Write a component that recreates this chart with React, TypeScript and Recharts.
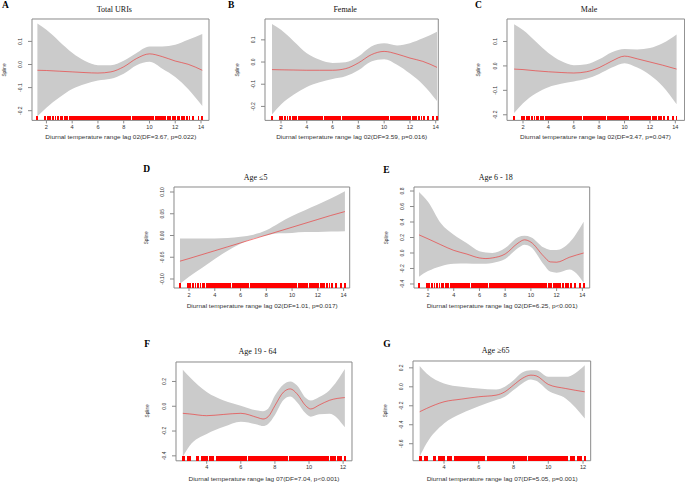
import React from 'react';
import {ComposedChart, Area, Line, XAxis, YAxis, ReferenceArea, ReferenceLine} from 'recharts';

// ---- observed exposure values (rug) ----
const LAG02_RUG = [
    1.3, 1.9, 2.1, 2.3, 2.5, 2.7, 2.9, 3.1, 3.2, 3.4, 3.5, 3.6, 3.8, 3.9,
    4.0, 4.1, 4.2, 4.3, 4.4, 4.5, 4.6, 4.7, 4.8, 4.9,
    5.0, 5.1, 5.2, 5.4, 5.5, 5.6, 5.7, 5.8, 5.9,
    6.0, 6.1, 6.2, 6.3, 6.4, 6.5, 6.6, 6.8, 6.9,
    7.0, 7.1, 7.2, 7.3, 7.4, 7.5, 7.6, 7.7, 7.8, 7.9,
    8.0, 8.1, 8.2, 8.3, 8.4, 8.5, 8.7, 8.8, 8.9,
    9.0, 9.1, 9.2, 9.3, 9.4, 9.5, 9.6, 9.7, 9.8, 9.9,
    10.0, 10.1, 10.2, 10.3, 10.5, 10.6, 10.7, 10.8, 10.9,
    11.0, 11.1, 11.2, 11.4, 11.5, 11.6, 11.8, 11.9, 12.0, 12.2, 12.3,
    12.5, 12.7, 12.9, 13.1, 13.4, 13.8, 14.1,
];
const LAG07_RUG = [
    2.6, 2.7, 2.9, 3.0, 3.4, 3.5, 3.7, 3.8, 3.9, 4.0, 4.2, 4.3, 4.4, 4.6, 4.7, 4.8, 4.9,
    5.0, 5.1, 5.2, 5.3, 5.4, 5.5, 5.6, 5.7, 5.8, 5.9,
    6.0, 6.1, 6.2, 6.3, 6.5, 6.6, 6.7, 6.8, 6.9,
    7.0, 7.1, 7.2, 7.3, 7.4, 7.5, 7.6, 7.7, 7.8, 7.9,
    8.0, 8.1, 8.2, 8.3, 8.4, 8.5, 8.6, 8.7, 8.9,
    9.0, 9.1, 9.2, 9.3, 9.4, 9.5, 9.6, 9.7, 9.8, 9.9,
    10.0, 10.1, 10.2, 10.3, 10.4, 10.5, 10.6, 10.7, 10.8, 10.9,
    11.0, 11.1, 11.3, 11.4, 11.5, 11.7, 11.8, 11.9, 12.1,
];

const LAG02_TICKS = [2, 4, 6, 8, 10, 12, 14];
const LAG07_TICKS = [4, 6, 8, 10, 12];

// ---- A: Total URIs ----
const A_X = [1.3, 2, 3, 4, 5, 6, 7, 8, 9, 10, 11, 12, 13, 14.1];
const A_FIT = [-0.025, -0.026, -0.029, -0.032, -0.035, -0.037, -0.032, -0.01, 0.026, 0.046, 0.034, 0.015, 0.001, -0.025];
const A_HI = [0.178, 0.15, 0.1, 0.051, 0.015, -0.003, -0.003, 0.016, 0.05, 0.078, 0.078, 0.085, 0.107, 0.132];
const A_LO = [-0.224, -0.187, -0.143, -0.106, -0.084, -0.069, -0.062, -0.04, -0.003, 0.012, -0.018, -0.054, -0.106, -0.18];

// ---- B: Female ----
const B_X = [1.3, 2, 3, 4, 5, 6, 7, 8, 9, 10, 11, 12, 13, 14.1];
const B_FIT = [-0.034, -0.035, -0.036, -0.037, -0.037, -0.037, -0.03, -0.004, 0.033, 0.048, 0.036, 0.018, 0.003, -0.024];
const B_HI = [0.172, 0.145, 0.093, 0.04, 0.01, -0.004, -0.001, 0.025, 0.07, 0.085, 0.075, 0.085, 0.107, 0.137];
const B_LO = [-0.236, -0.191, -0.146, -0.112, -0.091, -0.076, -0.064, -0.037, 0.003, 0.013, -0.012, -0.052, -0.101, -0.176];

// ---- C: Male ----
const C_X = [1.3, 2, 3, 4, 5, 6, 7, 8, 9, 10, 11, 12, 13, 14.1];
const C_FIT = [-0.013, -0.015, -0.02, -0.024, -0.027, -0.029, -0.024, -0.007, 0.02, 0.04, 0.029, 0.016, 0.003, -0.013];
const C_HI = [0.171, 0.147, 0.1, 0.053, 0.02, 0.003, 0.007, 0.027, 0.056, 0.069, 0.067, 0.073, 0.093, 0.129];
const C_LO = [-0.193, -0.153, -0.113, -0.087, -0.073, -0.064, -0.053, -0.033, -0.007, 0.011, -0.007, -0.037, -0.083, -0.157];

// ---- D: Age <=5 ----
const D_X = [1.3, 2, 3, 4, 5, 6, 7, 8, 9, 10, 11, 12, 13, 14.1];
const D_FIT = [-0.059, -0.053, -0.044, -0.035, -0.026, -0.017, -0.008, 0.001, 0.01, 0.019, 0.028, 0.037, 0.046, 0.055];
const D_HI = [-0.007, -0.007, -0.007, -0.007, -0.006, -0.003, 0.002, 0.012, 0.029, 0.045, 0.058, 0.071, 0.085, 0.102];
const D_LO = [-0.111, -0.095, -0.075, -0.054, -0.035, -0.019, -0.007, 0.0, 0.005, 0.006, 0.008, 0.008, 0.009, 0.01];

// ---- E: Age 6 - 18 ----
const E_X = [1.3, 2, 3, 4, 5, 6, 6.5, 7, 8, 9, 9.5, 10, 11, 11.5, 12, 13, 14.1];
const E_FIT = [0.234, 0.183, 0.106, 0.034, -0.013, -0.064, -0.072, -0.064, -0.013, 0.128, 0.17, 0.14, -0.043, -0.115, -0.119, -0.055, 0.0];
const E_HI = [0.787, 0.66, 0.383, 0.234, 0.128, 0.021, 0.005, 0.0, 0.064, 0.204, 0.221, 0.204, 0.07, 0.04, 0.04, 0.136, 0.404];
const E_LO = [-0.306, -0.234, -0.17, -0.14, -0.136, -0.14, -0.14, -0.128, -0.077, 0.064, 0.106, 0.077, -0.149, -0.24, -0.255, -0.213, -0.383];

// ---- F: Age 19 - 64 ----
const F_X = [2.6, 3, 4, 5, 6, 7, 7.3, 7.6, 8, 8.5, 8.9, 9.3, 9.8, 10.1, 10.6, 11.2, 12.1];
const F_FIT = [-0.057, -0.062, -0.076, -0.066, -0.057, -0.092, -0.103, -0.085, 0.005, 0.114, 0.14, 0.1, 0.005, -0.022, 0.01, 0.048, 0.07];
const F_HI = [0.295, 0.235, 0.114, 0.046, 0.005, -0.035, -0.04, -0.02, 0.086, 0.176, 0.2, 0.168, 0.068, 0.046, 0.075, 0.13, 0.3];
const F_LO = [-0.408, -0.319, -0.224, -0.165, -0.124, -0.149, -0.16, -0.143, -0.07, 0.051, 0.078, 0.032, -0.057, -0.084, -0.065, -0.06, -0.17];

// ---- G: Age >=65 ----
const G_X = [2.6, 3, 4, 5, 6, 7, 7.5, 8, 8.5, 9, 9.3, 10, 11, 12.1];
const G_FIT = [-0.263, -0.228, -0.158, -0.13, -0.105, -0.088, -0.053, 0.018, 0.088, 0.123, 0.116, 0.025, -0.018, -0.053];
const G_HI = [0.218, 0.14, 0.035, 0.0, -0.018, -0.028, 0.0, 0.07, 0.151, 0.175, 0.175, 0.105, 0.105, 0.228];
const G_LO = [-0.737, -0.596, -0.386, -0.281, -0.204, -0.14, -0.105, -0.035, 0.035, 0.077, 0.063, -0.042, -0.123, -0.333];

const SANS = '"Liberation Sans", Arial, sans-serif';
const SERIF = '"Liberation Serif", "Times New Roman", serif';
const BOX = '#8a8a8a';
const RED = '#ff0000';
const FIT_RED = '#f02a2a';
const BAND = '#cbcbcb';
const TXT = '#333333';

// chart margins around the plot box
const ML = 36;
const MT = 4;
const MR = 4;
const XH = 16;
const RUG_PX = 4.5;

const PANELS = [
    {id: 'A', title: 'Total URIs', xlab: 'Diurnal temperature range lag 02(DF=3.67, p=0.022)',
        L: 32.3, T: 19.3, R: 209.3, B: 120.7, xDom: [0.882, 14.62], yDom: [-0.242, 0.197],
        xTicks: LAG02_TICKS, yTicks: [-0.2, -0.1, 0, 0.1], digits: 1,
        x: A_X, fit: A_FIT, lo: A_LO, hi: A_HI, rug: LAG02_RUG, letter: [2, 8.3], xlabOff: 18.3},
    {id: 'B', title: 'Female', xlab: 'Diurnal temperature range lag 02(DF=3.59, p=0.016)',
        L: 265, T: 19.3, R: 438.3, B: 120.7, xDom: [0.759, 14.2], yDom: [-0.263, 0.194],
        xTicks: LAG02_TICKS, yTicks: [-0.2, -0.1, 0, 0.1], digits: 1,
        x: B_X, fit: B_FIT, lo: B_LO, hi: B_HI, rug: LAG02_RUG, letter: [228, 8.3], xlabOff: 18.3},
    {id: 'C', title: 'Male', xlab: 'Diurnal temperature range lag 02(DF=3.47, p=0.047)',
        L: 506.7, T: 19.3, R: 684.3, B: 120.7, xDom: [0.739, 14.73], yDom: [-0.223, 0.192],
        xTicks: LAG02_TICKS, yTicks: [-0.2, -0.1, 0, 0.1], digits: 1,
        x: C_X, fit: C_FIT, lo: C_LO, hi: C_HI, rug: LAG02_RUG, letter: [475, 8.3], xlabOff: 18.6},
    {id: 'D', title: 'Age \u22645', xlab: 'Diurnal temperature range lag 02(DF=1.01, p=0.017)',
        L: 174.3, T: 187.3, R: 350, B: 288.3, xDom: [0.836, 14.47], yDom: [-0.1207, 0.1115],
        xTicks: LAG02_TICKS, yTicks: [-0.1, -0.05, 0, 0.05, 0.1], digits: 2,
        x: D_X, fit: D_FIT, lo: D_LO, hi: D_HI, rug: LAG02_RUG, letter: [143.3, 171.7], xlabOff: 20},
    {id: 'E', title: 'Age 6 - 18', xlab: 'Diurnal temperature range lag 02(DF=6.25, p<0.001)',
        L: 414.3, T: 187.3, R: 590, B: 288.3, xDom: [0.912, 14.57], yDom: [-0.452, 0.852],
        xTicks: LAG02_TICKS, yTicks: [-0.4, -0.2, 0, 0.2, 0.4, 0.6, 0.8], digits: 1,
        x: E_X, fit: E_FIT, lo: E_LO, hi: E_HI, rug: LAG02_RUG, letter: [383.3, 172.7], xlabOff: 20},
    {id: 'F', title: 'Age 19 - 64', xlab: 'Diurnal temperature range lag 07(DF=7.04, p<0.001)',
        L: 176, T: 361.5, R: 352, B: 460.3, xDom: [2.2, 12.52], yDom: [-0.44, 0.357],
        xTicks: LAG07_TICKS, yTicks: [-0.4, -0.2, 0, 0.2], digits: 1,
        x: F_X, fit: F_FIT, lo: F_LO, hi: F_HI, rug: LAG07_RUG, letter: [144.3, 346.7], xlabOff: 20.5},
    {id: 'G', title: 'Age \u226565', xlab: 'Diurnal temperature range lag 07(DF=5.05, p=0.001)',
        L: 413.3, T: 361, R: 591, B: 460.7, xDom: [2.216, 12.44], yDom: [-0.779, 0.272],
        xTicks: LAG07_TICKS, yTicks: [-0.6, -0.4, -0.2, 0, 0.2], digits: 1,
        x: G_X, fit: G_FIT, lo: G_LO, hi: G_HI, rug: LAG07_RUG, letter: [383.3, 346.7], xlabOff: 20.5},
];

const Panel = ({p}: {p: any}) => {
    const w = p.R - p.L + ML + MR;
    const h = p.B - p.T + MT + XH;
    const bottom = MT + (p.B - p.T);
    const rows = p.x.map((x: number, i: number) => ({x, fit: p.fit[i], band: [p.lo[i], p.hi[i]]}));
    // rug tick height converted from pixels into data units of this panel
    const y0 = p.yDom[0];
    const rugH = RUG_PX * (p.yDom[1] - p.yDom[0]) / (p.B - p.T);

    const xTick = (props: any) => (
        <text x={props.x} y={bottom + 8.6} textAnchor="middle" fontSize={5.6} fill={TXT} fontFamily={SANS}>
            {props.payload.value}
        </text>
    );
    const yTick = (props: any) => {
        const tx = ML - 10;
        return (
            <text x={tx} y={props.y} transform={`rotate(-90 ${tx} ${props.y})`} textAnchor="middle"
                  fontSize={5} fill={TXT} fontFamily={SANS}>
                {Number(props.payload.value).toFixed(p.digits)}
            </text>
        );
    };

    return (
        <div style={{position: 'absolute', left: p.L - ML, top: p.T - MT, width: w, height: h}}>
            <ComposedChart width={w} height={h} margin={{top: MT, right: MR, bottom: 0, left: 0}}>
                <XAxis type="number" dataKey="x" domain={p.xDom} ticks={p.xTicks} interval={0}
                       allowDataOverflow axisLine={false} tickSize={3} tickLine={{stroke: BOX}}
                       tick={xTick} height={XH}/>
                <YAxis type="number" domain={p.yDom} ticks={p.yTicks} interval={0}
                       allowDataOverflow axisLine={false} tickSize={4} tickLine={{stroke: BOX}}
                       tick={yTick} width={ML}/>
                <Area data={rows} dataKey="band" type="monotone" fill={BAND} fillOpacity={1}
                      stroke="none" isAnimationActive={false}/>
                <Line data={rows} dataKey="fit" type="monotone" stroke={FIT_RED} strokeWidth={0.6}
                      dot={false} isAnimationActive={false}/>
                {p.rug.map((v: number, i: number) => (
                    <ReferenceLine key={`rug-${i}`} segment={[{x: v, y: y0}, {x: v, y: y0 + rugH}]}
                                   stroke={RED} strokeWidth={1.8} shapeRendering="crispEdges"
                                   ifOverflow="visible"/>
                ))}
                <ReferenceArea x1={p.xDom[0]} x2={p.xDom[1]} y1={p.yDom[0]} y2={p.yDom[1]}
                               fill="none" fillOpacity={0} stroke={BOX} strokeWidth={1} ifOverflow="visible"/>
            </ComposedChart>
        </div>
    );
};

export default function App() {
    return (
        <div style={{position: 'absolute', left: 0, top: 0, width: 685, height: 483, background: '#fff', overflow: 'hidden'}}>
            {PANELS.map(p => <Panel key={p.id} p={p}/>)}
            <svg width={685} height={483} style={{position: 'absolute', left: 0, top: 0, pointerEvents: 'none'}}>
                {PANELS.map(p => {
                    const cx = (p.L + p.R) / 2;
                    const cy = (p.T + p.B) / 2;
                    const sx = p.L - 26.5;
                    return (
                        <g key={p.id}>
                            <text x={p.letter[0]} y={p.letter[1]} fontSize={9.5} fontWeight="bold"
                                  fontFamily={SERIF} fill="#000">{p.id}</text>
                            <text x={cx - 6.5} y={p.T - 7.8} textAnchor="middle" fontSize={8}
                                  fontFamily={SERIF} fill="#111">{p.title}</text>
                            <text x={cx} y={p.B + p.xlabOff} textAnchor="middle" fontSize={5.6}
                                  fontFamily={SANS} fill={TXT} textLength={151}
                                  lengthAdjust="spacingAndGlyphs">{p.xlab}</text>
                            <text x={sx} y={cy} transform={`rotate(-90 ${sx} ${cy})`} textAnchor="middle"
                                  fontSize={4.7} fontFamily={SANS} fill={TXT}>Spline</text>
                        </g>
                    );
                })}
            </svg>
        </div>
    );
}
